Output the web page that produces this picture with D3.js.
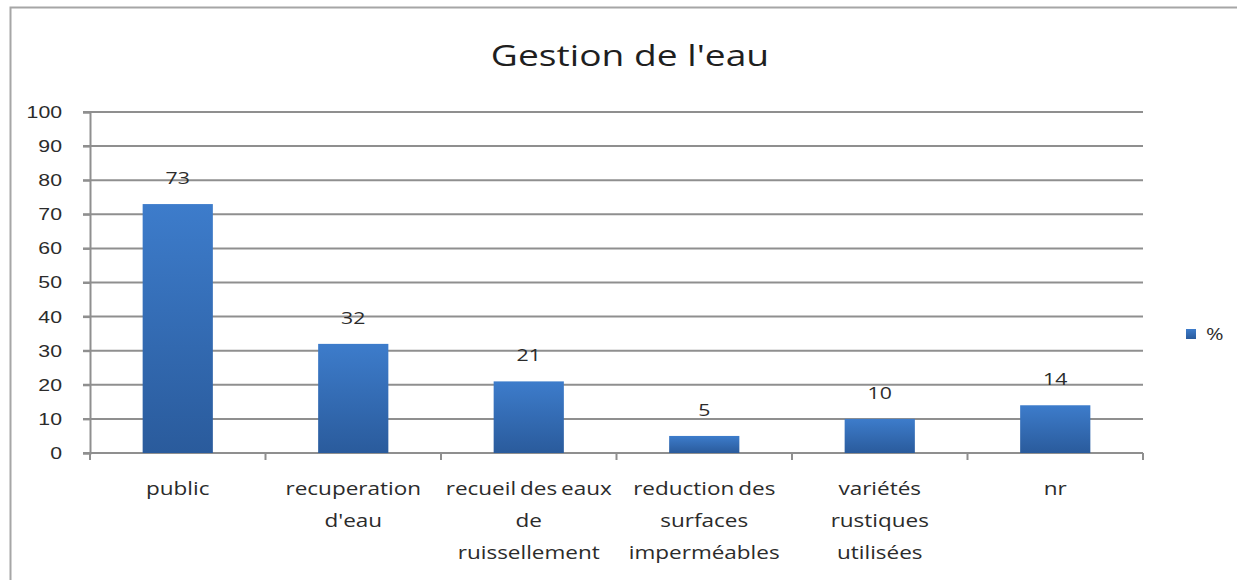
<!DOCTYPE html>
<html>
<head>
<meta charset="utf-8">
<script src="https://cdn.jsdelivr.net/npm/d3@7"></script>
<style>
  body { margin: 0; background: #fff; }
  svg { font-family: "Open Sans", "Noto Sans", sans-serif; }
</style>
</head>
<body>
<div id="chart"></div>
<script>
// Data
var categories = [
    ["public"],
    ["recuperation", "d'eau"],
    ["recueil des eaux", "de", "ruissellement"],
    ["reduction des", "surfaces", "imperméables"],
    ["variétés", "rustiques", "utilisées"],
    ["nr"]
];
var values = [73, 32, 21, 5, 10, 14];
var yTicks = [0, 10, 20, 30, 40, 50, 60, 70, 80, 90, 100];
var seriesName = "%";
var title = "Gestion de l'eau";

var width = 1237, height = 580;
var margin = {top: 112, right: 94, bottom: 127, left: 90};
var stretch = 1.25; // the original text is drawn wide
var textColor = '#2b2b2b';

var svg = d3.select('#chart').append('svg')
    .attr('width', width)
    .attr('height', height);

// Gradient for bars
var defs = svg.append('defs');
var grad = defs.append('linearGradient')
    .attr('id', 'barGrad')
    .attr('x1', 0).attr('y1', 0).attr('x2', 0).attr('y2', 1);
grad.append('stop').attr('offset', '0%').attr('stop-color', '#3d7ccb');
grad.append('stop').attr('offset', '100%').attr('stop-color', '#2a5b9c');

// Chart area border
svg.append('path')
    .attr('d', 'M10.5,' + height + ' V7.5 H' + width)
    .attr('fill', 'none')
    .attr('stroke', '#a6a6a6')
    .attr('stroke-width', 2);

var x = d3.scaleBand()
    .domain(d3.range(categories.length))
    .range([margin.left, width - margin.right])
    .paddingInner(0.6)
    .paddingOuter(0.3);

var y = d3.scaleLinear()
    .domain([0, 100])
    .range([height - margin.bottom, margin.top]);

var g = svg.append('g');

// Gridlines
g.selectAll('.grid')
    .data(yTicks.filter(function(d) { return d > 0; }))
    .enter().append('line')
    .attr('class', 'grid')
    .attr('x1', margin.left - 7)
    .attr('x2', width - margin.right)
    .attr('y1', function(d) { return y(d); })
    .attr('y2', function(d) { return y(d); })
    .attr('stroke', '#8f8f8f')
    .attr('stroke-width', 2);

// Y axis
var yAxis = d3.axisLeft(y)
    .tickValues(yTicks)
    .tickSize(7)
    .tickPadding(15.4);
var yG = g.append('g')
    .attr('transform', 'translate(' + margin.left + ',0)')
    .call(yAxis);
yG.select('.domain').attr('stroke', '#8f8f8f').attr('stroke-width', 2);
yG.selectAll('.tick line').attr('stroke', '#8f8f8f').attr('stroke-width', 2);
yG.selectAll('.tick text')
    .attr('fill', textColor)
    .attr('transform', 'scale(' + stretch + ',1)')
    .style('font-size', '17px');

// X axis baseline with ticks at band boundaries
var boundaries = d3.range(categories.length + 1).map(function(i) {
    return margin.left + i * (width - margin.left - margin.right) / categories.length;
});
g.append('line')
    .attr('x1', margin.left - 7)
    .attr('x2', width - margin.right)
    .attr('y1', y(0)).attr('y2', y(0))
    .attr('stroke', '#8f8f8f')
    .attr('stroke-width', 2);
g.selectAll('.xtick')
    .data(boundaries)
    .enter().append('line')
    .attr('class', 'xtick')
    .attr('x1', function(d) { return d; })
    .attr('x2', function(d) { return d; })
    .attr('y1', y(0))
    .attr('y2', y(0) + 7)
    .attr('stroke', '#8f8f8f')
    .attr('stroke-width', 2);

// Bars
g.selectAll('.bar')
    .data(values)
    .enter().append('rect')
    .attr('class', 'bar')
    .attr('x', function(d, i) { return x(i); })
    .attr('width', x.bandwidth())
    .attr('y', function(d) { return y(d); })
    .attr('height', function(d) { return y(0) - y(d); })
    .attr('fill', 'url(#barGrad)');

// Value labels
g.selectAll('.val')
    .data(values)
    .enter().append('text')
    .attr('class', 'val')
    .attr('transform', function(d, i) {
        return 'translate(' + (x(i) + x.bandwidth() / 2) + ',' + (y(d) - 20) + ') scale(' + stretch + ',1)';
    })
    .attr('text-anchor', 'middle')
    .attr('fill', textColor)
    .style('font-size', '17px')
    .text(function(d) { return d; });

// Category labels
var catG = g.selectAll('.cat')
    .data(categories)
    .enter().append('text')
    .attr('class', 'cat')
    .attr('transform', function(d, i) {
        return 'translate(' + (x(i) + x.bandwidth() / 2) + ',0) scale(' + stretch + ',1)';
    })
    .attr('text-anchor', 'middle')
    .attr('fill', textColor)
    .style('font-size', '18px')
    .style('word-spacing', '-1.5px');
catG.selectAll('tspan')
    .data(function(d) { return d; })
    .enter().append('tspan')
    .attr('x', 0)
    .attr('y', function(d, j) { return y(0) + 42 + j * 32; })
    .text(function(d) { return d; });

// Title
svg.append('text')
    .attr('transform', 'translate(630,66) scale(1.24,1)')
    .attr('text-anchor', 'middle')
    .attr('fill', '#1f1f1f')
    .style('font-size', '30px')
    .text(title);

// Legend
var leg = svg.append('g').attr('transform', 'translate(1186,329)');
leg.append('rect')
    .attr('width', 10).attr('height', 10)
    .attr('fill', 'url(#barGrad)');
leg.append('text')
    .attr('transform', 'translate(20,11) scale(' + stretch + ',1)')
    .attr('fill', textColor)
    .style('font-size', '17px')
    .text(seriesName);
</script>
</body>
</html>
